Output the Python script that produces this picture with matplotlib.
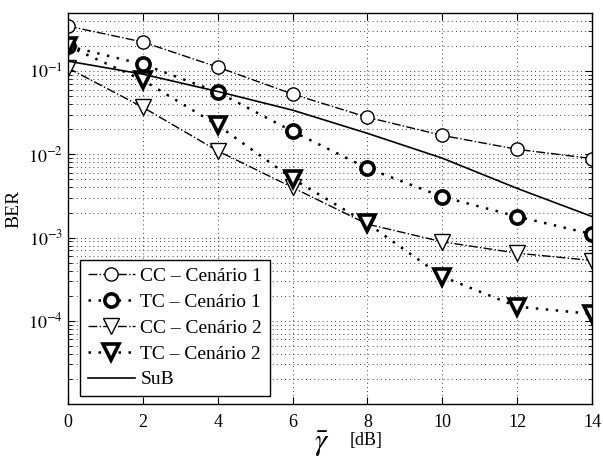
import matplotlib.pyplot as plt
import numpy as np

plt.rcParams["font.family"] = ["Liberation Serif", "DejaVu Serif"]
plt.rcParams["mathtext.fontset"] = "stix"

snr = [0, 2, 4, 6, 8, 10, 12, 14]

cc1 = [0.348, 0.224, 0.112, 0.053, 0.0279, 0.0169, 0.0115, 0.0089]
tc1 = [0.200, 0.121, 0.056, 0.0189, 0.0068, 0.0031, 0.00179, 0.0011]
cc2 = [0.109, 0.0368, 0.011, 0.0040, 0.00145, 0.00089, 0.00065, 0.00053]
tc2 = [0.200, 0.078, 0.0224, 0.0051, 0.00148, 0.00034, 0.000148, 0.000121]
sub = [0.132, 0.092, 0.057, 0.034, 0.0179, 0.0090, 0.0039, 0.00179]

labels = ["CC \u2013 Cenário 1", "TC \u2013 Cenário 1",
          "CC \u2013 Cenário 2", "TC \u2013 Cenário 2", "SuB"]

fig = plt.figure(figsize=(6.03, 4.58), dpi=100)
ax = fig.add_axes([0.1128, 0.1179, 0.8690, 0.8537])

ax.semilogy(snr, cc1, color="k", linestyle="-.", lw=1.0, marker="o",
            markersize=9.5, markerfacecolor="white", markeredgewidth=1.0,
            label=labels[0])
ax.semilogy(snr, tc1, color="k", linestyle=(0, (1, 3)), lw=1.8, marker="o",
            markersize=9.5, markerfacecolor="white", markeredgewidth=2.6,
            label=labels[1])
ax.semilogy(snr, cc2, color="k", linestyle="-.", lw=1.0, marker="v",
            markersize=11, markerfacecolor="white", markeredgewidth=1.0,
            label=labels[2])
ax.semilogy(snr, tc2, color="k", linestyle=(0, (1, 3)), lw=1.8, marker="v",
            markersize=11, markerfacecolor="white", markeredgewidth=2.6,
            label=labels[3])
ax.semilogy(snr, sub, color="k", linestyle="-", lw=1.2, label=labels[4])

ax.set_xlim(0, 14)
ax.set_ylim(1e-5, 0.5)
ax.set_xticks(snr)
ax.set_yticks([1e-4, 1e-3, 1e-2, 1e-1])
ax.set_yticklabels([r"$10^{-4}$", r"$10^{-3}$", r"$10^{-2}$", r"$10^{-1}$"])

ax.grid(True, which="major", axis="x", color="k", linestyle=(0, (1, 4)), lw=0.6)
ax.grid(True, which="both", axis="y", color="k", linestyle=(0, (1, 4)), lw=0.6)
ax.tick_params(which="both", direction="in", top=True, right=True, labelsize=13)
ax.tick_params(which="major", length=5)
ax.tick_params(which="minor", length=3)
ax.tick_params(axis="x", pad=7)
for s in ax.spines.values():
    s.set_linewidth(1.0)

ax.set_ylabel("BER", fontsize=14)

# x label: big gamma-bar followed by a smaller [dB]
fig.text(0.533, 0.03, r"$\bar{\gamma}$", fontsize=22, ha="center", va="center")
fig.text(0.607, 0.039, "[dB]", fontsize=13, ha="center", va="center")

leg = ax.legend(loc="lower left", bbox_to_anchor=(0.023, 0.02), fontsize=14,
                handlelength=2.4, borderaxespad=0, fancybox=False,
                edgecolor="k", framealpha=1, labelspacing=0.42,
                handletextpad=0.3, borderpad=0.4)
leg.get_frame().set_linewidth(1.0)

fig.savefig("out.png", dpi=100)
